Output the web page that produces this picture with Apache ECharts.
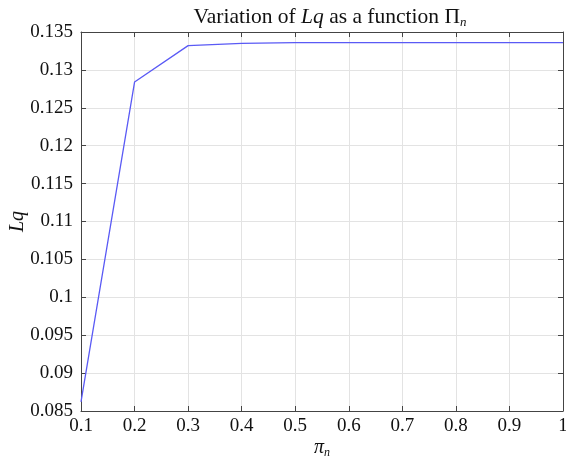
<!DOCTYPE html>
<html><head><meta charset="utf-8">
<script src="https://cdn.jsdelivr.net/npm/echarts@6/dist/echarts.min.js"></script>
<style>html,body{margin:0;padding:0;background:#fff}#c{width:566px;height:459px}</style>
</head><body><div id="c"></div>
<script>
const piValues = [0.1, 0.2, 0.3, 0.4, 0.5, 0.6, 0.7, 0.8, 0.9, 1.0];
const lqValues = [0.0862, 0.1284, 0.1332, 0.1335, 0.1336, 0.1336, 0.1336, 0.1336, 0.1336, 0.1336];
const yTicks = {min: 0.085, max: 0.135, interval: 0.005};
const xTicks = {min: 0.1, max: 1, interval: 0.1};

const font = 'Liberation Serif';
const chart = echarts.init(document.getElementById('c'));
const hideAxis = {
  axisLabel: {show: false}, splitLine: {show: false},
  axisLine: {show: true, lineStyle: {color: '#444', width: 1}},
  axisTick: {show: true, inside: true, length: 5, lineStyle: {color: '#444'}}
};
chart.setOption({
  animation: false,
  textStyle: {fontFamily: font},
  title: {
    text: '{n|Variation of }{i|Lq}{n| as a function Π}{s|n}',
    left: 325, top: 1, textAlign: 'center',
    textStyle: {
      fontWeight: 'normal',
      rich: {
        n: {fontFamily: font, fontSize: 21.5, fontWeight: 'normal', color: '#111'},
        i: {fontFamily: font, fontSize: 21.5, fontWeight: 'normal', fontStyle: 'italic', color: '#111'},
        s: {fontFamily: font, fontSize: 13, fontWeight: 'normal', fontStyle: 'italic', color: '#111', padding: [10, 0, 0, 0]}
      }
    }
  },
  grid: {left: 81, right: 3, top: 32, bottom: 48, containLabel: false, outerBoundsMode: 'none'},
  xAxis: [{
    type: 'value', min: xTicks.min, max: xTicks.max, interval: xTicks.interval,
    axisLine: {show: true, lineStyle: {color: '#444', width: 1}},
    axisTick: {show: true, inside: true, length: 5, lineStyle: {color: '#444'}},
    axisLabel: {color: '#111', fontSize: 19, fontFamily: font, margin: 6,
      formatter: v => String(Math.round(v * 10) / 10)},
    splitLine: {show: true, lineStyle: {color: '#e3e3e3', width: 1}},
    name: '{i|π}{s|n}', nameLocation: 'middle', nameGap: 26, nameMoveOverlap: false,
    nameTextStyle: {verticalAlign: 'top', rich: {
      i: {fontFamily: font, fontSize: 20, fontStyle: 'italic', color: '#111'},
      s: {fontFamily: font, fontSize: 12, fontStyle: 'italic', color: '#111', padding: [10, 0, 0, 0]}
    }}
  }, Object.assign({type: 'value', position: 'top', min: xTicks.min, max: xTicks.max, interval: xTicks.interval}, hideAxis)],
  yAxis: [{
    type: 'value', min: yTicks.min, max: yTicks.max, interval: yTicks.interval,
    axisLine: {show: true, lineStyle: {color: '#444', width: 1}},
    axisTick: {show: true, inside: true, length: 5, lineStyle: {color: '#444'}},
    axisLabel: {color: '#111', fontSize: 19, fontFamily: font, margin: 8,
      formatter: v => String(Math.round(v * 1000) / 1000)},
    splitLine: {show: true, lineStyle: {color: '#e3e3e3', width: 1}},
    name: 'Lq', nameLocation: 'middle', nameGap: 53, nameRotate: 90, nameMoveOverlap: false,
    nameTextStyle: {fontFamily: font, fontSize: 20, fontStyle: 'italic', color: '#111', verticalAlign: 'bottom'}
  }, Object.assign({type: 'value', position: 'right', min: yTicks.min, max: yTicks.max, interval: yTicks.interval}, hideAxis)],
  series: [{
    type: 'line', data: piValues.map((x, i) => [x, lqValues[i]]),
    showSymbol: false, lineStyle: {color: '#5a5af5', width: 1.3}
  }]
});
</script></body></html>
